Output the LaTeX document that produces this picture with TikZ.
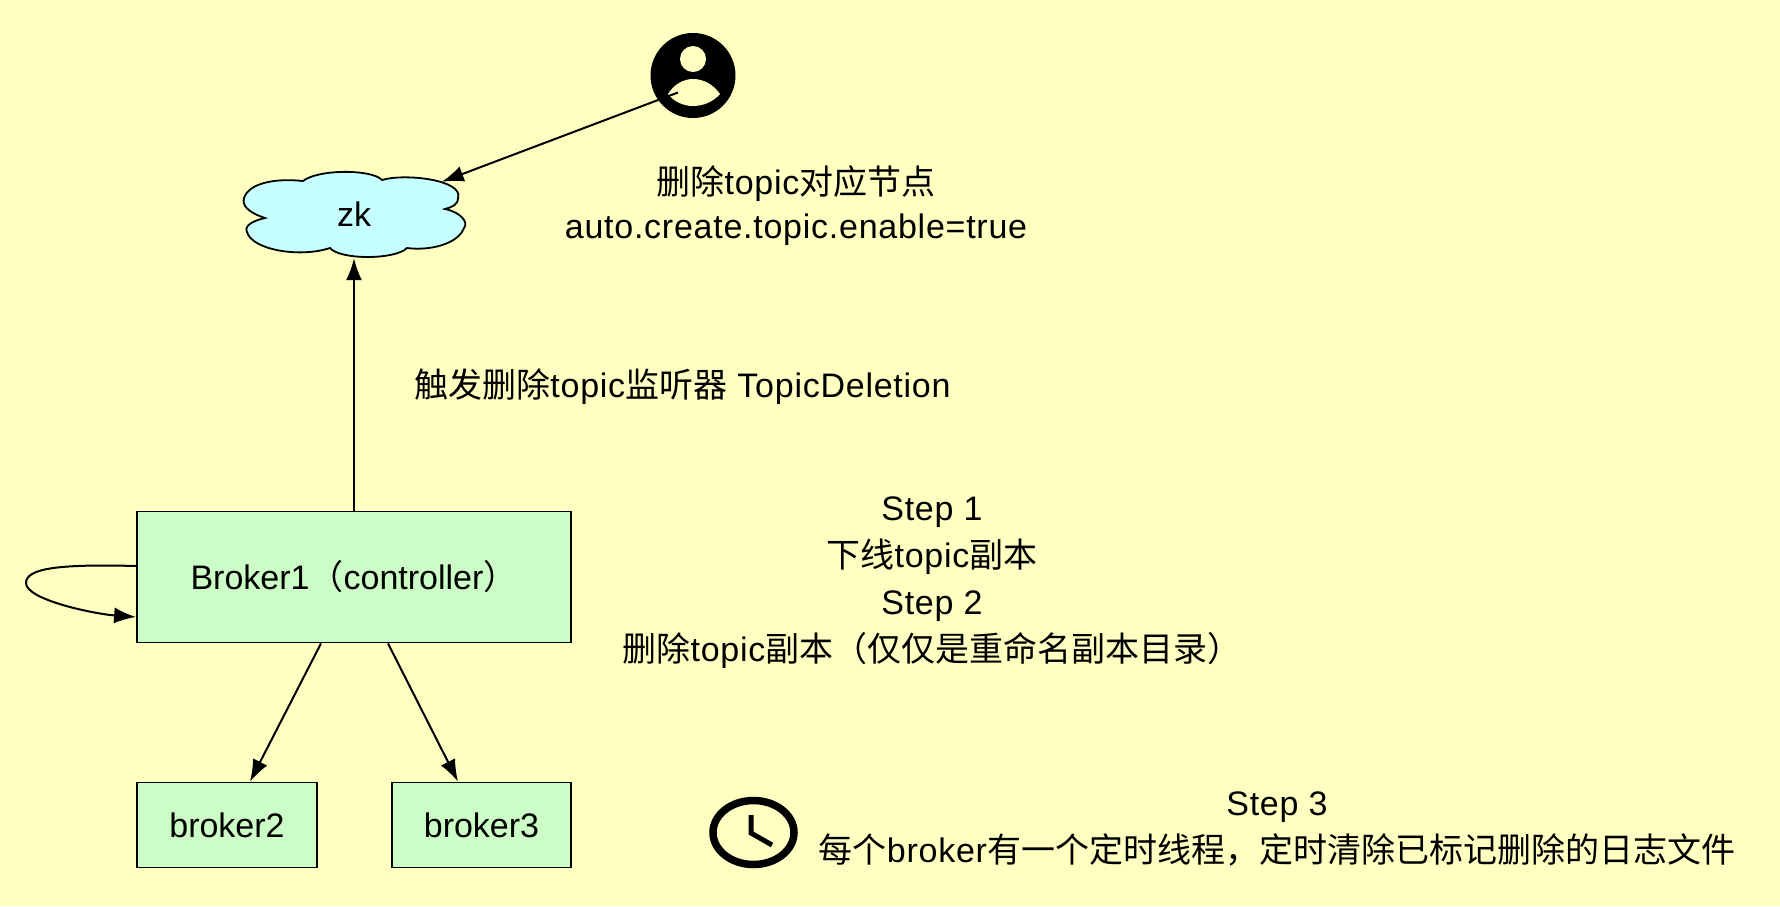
\documentclass[tikz,border=0pt]{standalone}
\usepackage{fontspec}
\setmainfont{Liberation Sans}
\newfontfamily\cjk{Noto Sans CJK SC}
\newfontfamily\latn[LetterSpace=2.2]{Liberation Sans}
\usetikzlibrary{arrows.meta,shapes.geometric}
\newcommand\zh[1]{{\cjk #1}}
\definecolor{bgc}{HTML}{FFFFC2}
\definecolor{boxc}{HTML}{CCFDC6}
\definecolor{cloudc}{HTML}{C6FFFF}
\tikzset{
  boxnode/.style={draw=black,fill=boxc,line width=1.8pt,inner sep=0pt,text=black},
  note/.style={align=center,inner sep=0pt,text=black,font=\fontsize{34}{47}\selectfont\latn},
  conn/.style={draw=black,line width=2pt,-{Latex[length=22pt,width=16pt]}}
}
\begin{document}
\begin{tikzpicture}[x=1pt,y=-1pt,every node/.style={font=\fontsize{34}{47}\selectfont}]
\useasboundingbox (0,0) rectangle (1780,906);
\fill[bgc] (0,0) rectangle (1780,906);
% cloud
\draw[fill=cloudc,draw=black,line width=1.8pt]
  (303,181) .. controls (318,169) and (372,169) .. (382,180)
  .. controls (405,173) and (464,180) .. (458,198)
  .. controls (458,205) and (452,207) .. (445,209)
  .. controls (460,212) and (469,222) .. (464,228)
  .. controls (458,244) and (430,251) .. (407,248)
  .. controls (395,260) and (340,260) .. (330,248)
  .. controls (300,258) and (252,250) .. (247,232)
  .. controls (244,226) and (252,221) .. (265,218)
  .. controls (247,212) and (242,205) .. (244,198)
  .. controls (249,183) and (275,178) .. (303,181) -- cycle;
\node[minimum width=225pt,minimum height=87pt,inner sep=0pt] (zk) at (354,214.5) {zk};
% boxes
\node[boxnode,minimum width=434pt,minimum height=131pt] (b1) at (354,577) {Broker1\zh{（}controller\zh{）}};
\node[boxnode,minimum width=180pt,minimum height=85pt] (b2) at (227,825) {broker2};
\node[boxnode,minimum width=179pt,minimum height=85pt] (b3) at (481.5,825) {broker3};
% user icon
\node[draw=none,fill=black,ellipse,minimum width=85pt,minimum height=85pt,inner sep=0pt] (user) at (693,75.5) {};
\fill[bgc] (693,59) ellipse [x radius=13,y radius=13];
\fill[bgc] (668,94) .. controls (674,84) and (684,79) .. (693,79) .. controls (703,79) and (713,84) .. (720,94) .. controls (713,102) and (703,106) .. (693,106) .. controls (684,106) and (674,102) .. (668,94) -- cycle;
% clock icon
\node[draw=black,line width=7.5pt,ellipse,minimum width=81pt,minimum height=64pt,inner sep=0pt] (clock) at (753.5,832.5) {};
\draw[black,line width=5pt] (751,815) -- (751,833) -- (772,845);
% connectors
\coordinate (loopl) at (26,583);
\draw[conn] ([xshift=-15pt,yshift=-17pt]user.center) -- ([xshift=-25pt,yshift=-11pt]zk.north east);
\draw[conn] (b1.north) -- (zk.south);
\draw[conn] ([yshift=11pt]b1.west) .. controls (60,564) and (26,568) .. (loopl) .. controls (26,600) and (95,614) .. ([yshift=-40pt]b1.west);
\draw[conn] ([xshift=-33pt]b1.south) -- ([xshift=23pt]b2.north);
\draw[conn] ([xshift=34pt]b1.south) -- ([xshift=-23.5pt]b3.north);
% notes
\node[note] (n1) at (796,205.5) {\zh{删除}topic\zh{对应节点}\\[-3pt]auto.create.topic.enable=true};
\node[note] (n2) at (682.5,387) {\zh{触发删除}topic\zh{监听器} TopicDeletion};
\node[note] (n3) at (932,582.5) {Step 1\\\zh{下线}topic\zh{副本}\\Step 2\\\zh{删除}topic\zh{副本（仅仅是重命名副本目录）}};
\node[note] (n4) at (1277,829) {Step 3\\\zh{每个}broker\zh{有一个定时线程，定时清除已标记删除的日志文件}};
\end{tikzpicture}
\end{document}
